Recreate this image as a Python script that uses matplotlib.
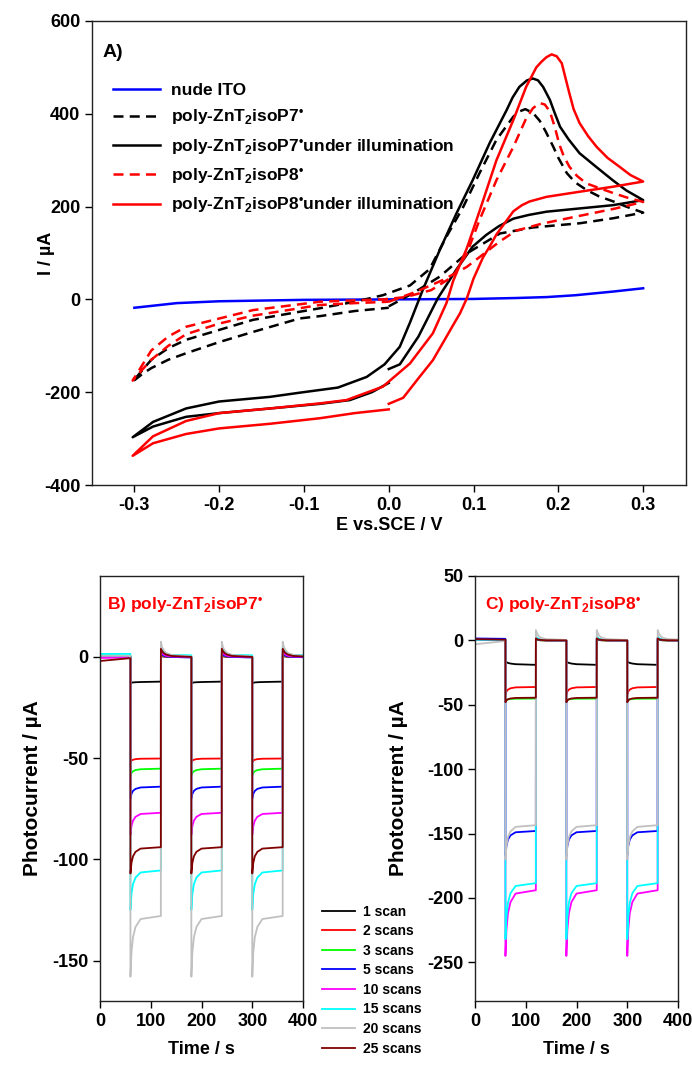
import matplotlib
matplotlib.use('Agg')
from matplotlib import pyplot as plt

plt.rcParams['font.family'] = 'Liberation Sans'
plt.rcParams['font.weight'] = 'bold'
plt.rcParams['axes.labelweight'] = 'bold'
plt.rcParams['mathtext.fontset'] = 'custom'
plt.rcParams['mathtext.rm'] = 'Liberation Sans:bold'
plt.rcParams['mathtext.bf'] = 'Liberation Sans:bold'
plt.rcParams['mathtext.it'] = 'Liberation Sans:bold:italic'
plt.rcParams['mathtext.default'] = 'bf'

# ---- panel A: cyclic voltammograms (E / V, I / uA), in scan order ----
ito_E = [-0.3, -0.25, -0.2, -0.1, 0.0, 0.1, 0.15, 0.186, 0.22, 0.265, 0.3]
ito_I = [-18, -8, -4, -1, 0, 1, 3, 5, 9, 17, 24]

p7_E = [0.0, 0.03, 0.06, 0.092, 0.131, 0.17, 0.2, 0.225, 0.265, 0.3,
        0.28, 0.265, 0.248, 0.233, 0.22, 0.21, 0.2, 0.194, 0.185, 0.178, 0.17, 0.161, 0.154, 0.147,
        0.127, 0.107, 0.088, 0.068, 0.048, 0.025, -0.007,
        -0.04, -0.081, -0.16, -0.239, -0.26, -0.28, -0.302,
        -0.29, -0.28, -0.26, -0.239, -0.2, -0.16, -0.105, -0.081, -0.04, 0.0]
p7_I = [-15, 15, 49, 99, 142, 155, 160, 164, 175, 187,
        200, 211, 222, 236, 252, 272, 305, 329, 362, 385, 402, 410, 405, 394,
        344, 272, 200, 135, 65, 30, 9,
        -5, -19, -44, -87, -105, -130, -177,
        -160, -148, -130, -116, -92, -70, -41, -36, -25, -18]

p7L_E = [0.0, 0.013, 0.035, 0.058, 0.08, 0.099, 0.115, 0.13, 0.147, 0.165, 0.186, 0.225, 0.264, 0.3,
         0.28, 0.264, 0.245, 0.225, 0.212, 0.202, 0.195, 0.19, 0.182, 0.176, 0.17, 0.163, 0.154, 0.146,
         0.139, 0.119, 0.099, 0.08, 0.06, 0.04, 0.025, 0.013,
         -0.005, -0.026, -0.06, -0.105, -0.14, -0.2, -0.239, -0.278, -0.302,
         -0.278, -0.239, -0.2, -0.14, -0.081, -0.046, -0.02, 0.0]
p7L_I = [-150, -140, -80, 3, 65, 114, 139, 158, 174, 182, 189, 196, 203, 214,
         235, 257, 285, 315, 345, 372, 405, 430, 458, 472, 476, 472, 458, 435,
         408, 337, 257, 186, 106, 20, -50, -102,
         -140, -167, -190, -201, -210, -220, -235, -264, -297,
         -274, -253, -245, -235, -225, -217, -200, -180]

p8_E = [0.0, 0.033, 0.064, 0.092, 0.131, 0.15, 0.18, 0.225, 0.265, 0.3,
        0.28, 0.265, 0.248, 0.233, 0.222, 0.213, 0.206, 0.201, 0.196, 0.19, 0.184, 0.178, 0.17, 0.162,
        0.147, 0.127, 0.107, 0.092, 0.076, 0.05, 0.02,
        -0.007, -0.04, -0.081, -0.16, -0.239, -0.26, -0.28, -0.302,
        -0.29, -0.28, -0.26, -0.239, -0.2, -0.16, -0.081, -0.04, 0.0]
p8_I = [-5, 17, 42, 70, 125, 148, 163, 180, 195, 210,
        220, 229, 240, 250, 266, 286, 310, 335, 370, 405, 420, 423, 412, 390,
        329, 257, 171, 99, 50, 20, 5,
        0, -2, -5, -23, -59, -80, -110, -175,
        -150, -130, -100, -75, -52, -35, -12, -8, -5]

p8L_E = [0.0, 0.017, 0.035, 0.052, 0.065, 0.076, 0.084, 0.092, 0.1, 0.111, 0.119, 0.127, 0.137, 0.147,
         0.157, 0.166, 0.186, 0.225, 0.265, 0.3,
         0.285, 0.272, 0.258, 0.245, 0.235, 0.225, 0.218, 0.213, 0.208, 0.204, 0.198, 0.192, 0.186, 0.18,
         0.174, 0.162, 0.147, 0.127, 0.107, 0.092, 0.076, 0.068,
         0.052, 0.025, -0.007, -0.05, -0.081, -0.14, -0.2, -0.239, -0.278, -0.302,
         -0.278, -0.239, -0.2, -0.14, -0.081, -0.04, 0.0]
p8L_I = [-225, -212, -170, -131, -90, -55, -30, 2, 45, 90, 114, 140, 165, 190,
         203, 211, 221, 232, 243, 254,
         268, 286, 305, 329, 352, 380, 410, 444, 480, 509, 524, 528, 522, 512,
         500, 458, 387, 300, 190, 110, 40, -8,
         -73, -138, -188, -217, -224, -235, -245, -262, -295, -337,
         -310, -290, -278, -268, -256, -245, -237]

# ---- panels B and C: photocurrent transients ----
scan_labels = ['1 scan', '2 scans', '3 scans', '5 scans', '10 scans', '15 scans', '20 scans', '25 scans']
scan_colors = ['#000000', '#FF0000', '#00FF00', '#0000FF', '#FF00FF', '#00FFFF', '#C0C0C0', '#800000']

light_on = [60, 180, 300]          # s, light switched on for 60 s each time
knot_t = [0, 2, 5, 10, 20, 59.9]   # s after each switch

# B) poly-ZnT2isoP7
b_first = [[0.3, 0.2], [0.5, 0.2], [0.8, 0.5], [0.5, 0.3], [-0.5, -0.3], [1.5, 1.5], [0.5, 0.5], [-2.0, -0.6]]
b_light = [[-13, -12.8, -12.6, -12.5, -12.4, -12.2],
           [-52, -51.2, -50.8, -50.5, -50.3, -50.2],
           [-58.6, -57.3, -56.5, -55.9, -55.5, -55.2],
           [-70, -67.7, -66.2, -65.2, -64.5, -64.1],
           [-88, -83.6, -80.9, -79, -77.6, -77],
           [-125, -117.2, -112.3, -109, -106.5, -105.5],
           [-158, -146, -138.5, -133.4, -129.5, -128],
           [-107, -101.8, -98.5, -96.3, -94.7, -94]]
b_dark = [[0.5, 0.3, 0.2, 0.1, 0, 0],
          [1, 0.6, 0.3, 0.1, 0, 0],
          [1.5, 1, 0.6, 0.3, 0.1, 0],
          [2, 1.2, 0.7, 0.3, 0, -0.3],
          [3, 2, 1.2, 0.6, 0.2, 0],
          [5, 3.5, 2.5, 1.5, 1, 0.8],
          [7.5, 5, 3.5, 2, 1, 0.2],
          [4, 3, 2, 1.2, 0.5, 0]]

# C) poly-ZnT2isoP8
c_first = [[0.5, 0.3], [0.5, 0.3], [0.5, 0.3], [1.5, 1.2], [0.5, 0.3], [0.5, 0.3], [-3, -0.5], [1.0, 0.5]]
c_light = [[-16.5, -17, -17.5, -18, -18.5, -19],
           [-42, -39.7, -38.2, -37.2, -36.5, -36.2],
           [-47, -46.3, -45.8, -45.5, -45.3, -45.2],
           [-167, -159.4, -154.7, -151.4, -149, -148],
           [-245, -224.6, -211.9, -203.2, -196.6, -194],
           [-232, -214.6, -203.7, -196.3, -190.7, -188.5],
           [-170, -159.4, -152.8, -148.3, -144.8, -143.5],
           [-48, -46.6, -45.7, -45.1, -44.7, -44.5]]
c_dark = [[0.5, 0.3, 0.2, 0.1, 0, 0],
          [1, 0.6, 0.3, 0.1, 0, 0],
          [1, 0.6, 0.3, 0.1, 0, 0],
          [1.5, 1, 0.6, 0.3, 0.1, 0],
          [2, 1.4, 0.8, 0.4, 0.1, 0],
          [3, 2, 1.2, 0.6, 0.2, 0],
          [8, 5.5, 3.5, 2, 1, 0.3],
          [1.5, 1, 0.6, 0.3, 0.1, 0]]


def build_trace(first, light, dark):
    t = [0, 59.9]
    y = list(first)
    for on in light_on:
        t += [on + k for k in knot_t]
        y += light
        t += [on + 60 + k for k in knot_t]
        y += dark
    return t, y


fig = plt.figure(figsize=(6.92, 10.7), dpi=100)

ax_a = fig.add_axes([0.1329, 0.5467, 0.8578, 0.4337])
ax_a.plot(ito_E, ito_I, color='#0000FF', lw=1.8, label='nude ITO')
ax_a.plot(p7_E, p7_I, color='black', lw=1.8, ls=(0, (4, 2.5)), label=r'poly-ZnT$_2$isoP7$^{•}$')
ax_a.plot(p7L_E, p7L_I, color='black', lw=1.8, label=r'poly-ZnT$_2$isoP7$^{•}$under illumination')
ax_a.plot(p8_E, p8_I, color='#FF0000', lw=1.8, ls=(0, (4, 2.5)), label=r'poly-ZnT$_2$isoP8$^{•}$')
ax_a.plot(p8L_E, p8L_I, color='#FF0000', lw=1.8, label=r'poly-ZnT$_2$isoP8$^{•}$under illumination')
ax_a.set_xlim(-0.35, 0.35)
ax_a.set_ylim(-400, 600)
ax_a.set_xticks([-0.3, -0.2, -0.1, 0.0, 0.1, 0.2, 0.3])
ax_a.set_xticklabels(['-0.3', '-0.2', '-0.1', '0.0', '0.1', '0.2', '0.3'])
ax_a.set_yticks([-400, -200, 0, 200, 400, 600])
ax_a.set_yticklabels(['-400', '-200', '0', '200', '400', '600'])
ax_a.set_xlabel('E vs.SCE / V', fontsize=13)
ax_a.set_ylabel('I / µA', fontsize=13)
ax_a.xaxis.set_label_coords(0.5, -0.068)
ax_a.yaxis.set_label_coords(-0.062, 0.5)
ax_a.text(0.018, 0.922, 'A)', transform=ax_a.transAxes, fontsize=14, fontweight='bold')
ax_a.legend(loc='upper left', bbox_to_anchor=(0.035, 0.866), frameon=False, fontsize=12.5,
            handlelength=2.7, handletextpad=0.63, labelspacing=0.55, borderpad=0, borderaxespad=0)

ax_b = fig.add_axes([0.1445, 0.0645, 0.2934, 0.3972])
ax_c = fig.add_axes([0.6864, 0.0645, 0.2934, 0.3972])

for i in range(len(scan_labels)):
    t, y = build_trace(b_first[i], b_light[i], b_dark[i])
    ax_b.plot(t, y, color=scan_colors[i], lw=1.3, label=scan_labels[i])
    t, y = build_trace(c_first[i], c_light[i], c_dark[i])
    ax_c.plot(t, y, color=scan_colors[i], lw=1.3, label=scan_labels[i])

ax_b.set_ylim(-170, 40)
ax_b.set_yticks([-150, -100, -50, 0])
ax_b.set_yticklabels(['-150', '-100', '-50', '0'])
ax_c.set_ylim(-280, 50)
ax_c.set_yticks([-250, -200, -150, -100, -50, 0, 50])
ax_c.set_yticklabels(['-250', '-200', '-150', '-100', '-50', '0', '50'])
for ax in (ax_b, ax_c):
    ax.set_xlim(0, 400)
    ax.set_xticks([0, 100, 200, 300, 400])
    ax.set_xlabel('Time / s', fontsize=13, labelpad=8)
    ax.set_ylabel('Photocurrent / µA', fontsize=15)
ax_b.yaxis.set_label_coords(-0.286, 0.5)
ax_c.yaxis.set_label_coords(-0.33, 0.5)
ax_b.text(0.035, 0.92, r'B) poly-ZnT$_2$isoP7$^{•}$', transform=ax_b.transAxes,
          fontsize=12.5, color='#FF0000', fontweight='bold')
ax_c.text(0.05, 0.92, r'C) poly-ZnT$_2$isoP8$^{•}$', transform=ax_c.transAxes,
          fontsize=12.5, color='#FF0000', fontweight='bold')

handles, labels = ax_b.get_legend_handles_labels()
fig.legend(handles, labels, loc='upper left', bbox_to_anchor=(0.4653, 0.1545), frameon=False,
           fontsize=10, handlelength=2.4, handletextpad=0.57, labelspacing=0.4,
           borderpad=0, borderaxespad=0)

for ax in (ax_a, ax_b, ax_c):
    ax.tick_params(direction='out', length=5, width=1, labelsize=13, top=False, right=False)
    for lab in ax.get_xticklabels() + ax.get_yticklabels():
        lab.set_fontweight('bold')
    for s in ax.spines.values():
        s.set_linewidth(1.0)
        s.set_color('#222222')

fig.savefig('out.png', dpi=100)
